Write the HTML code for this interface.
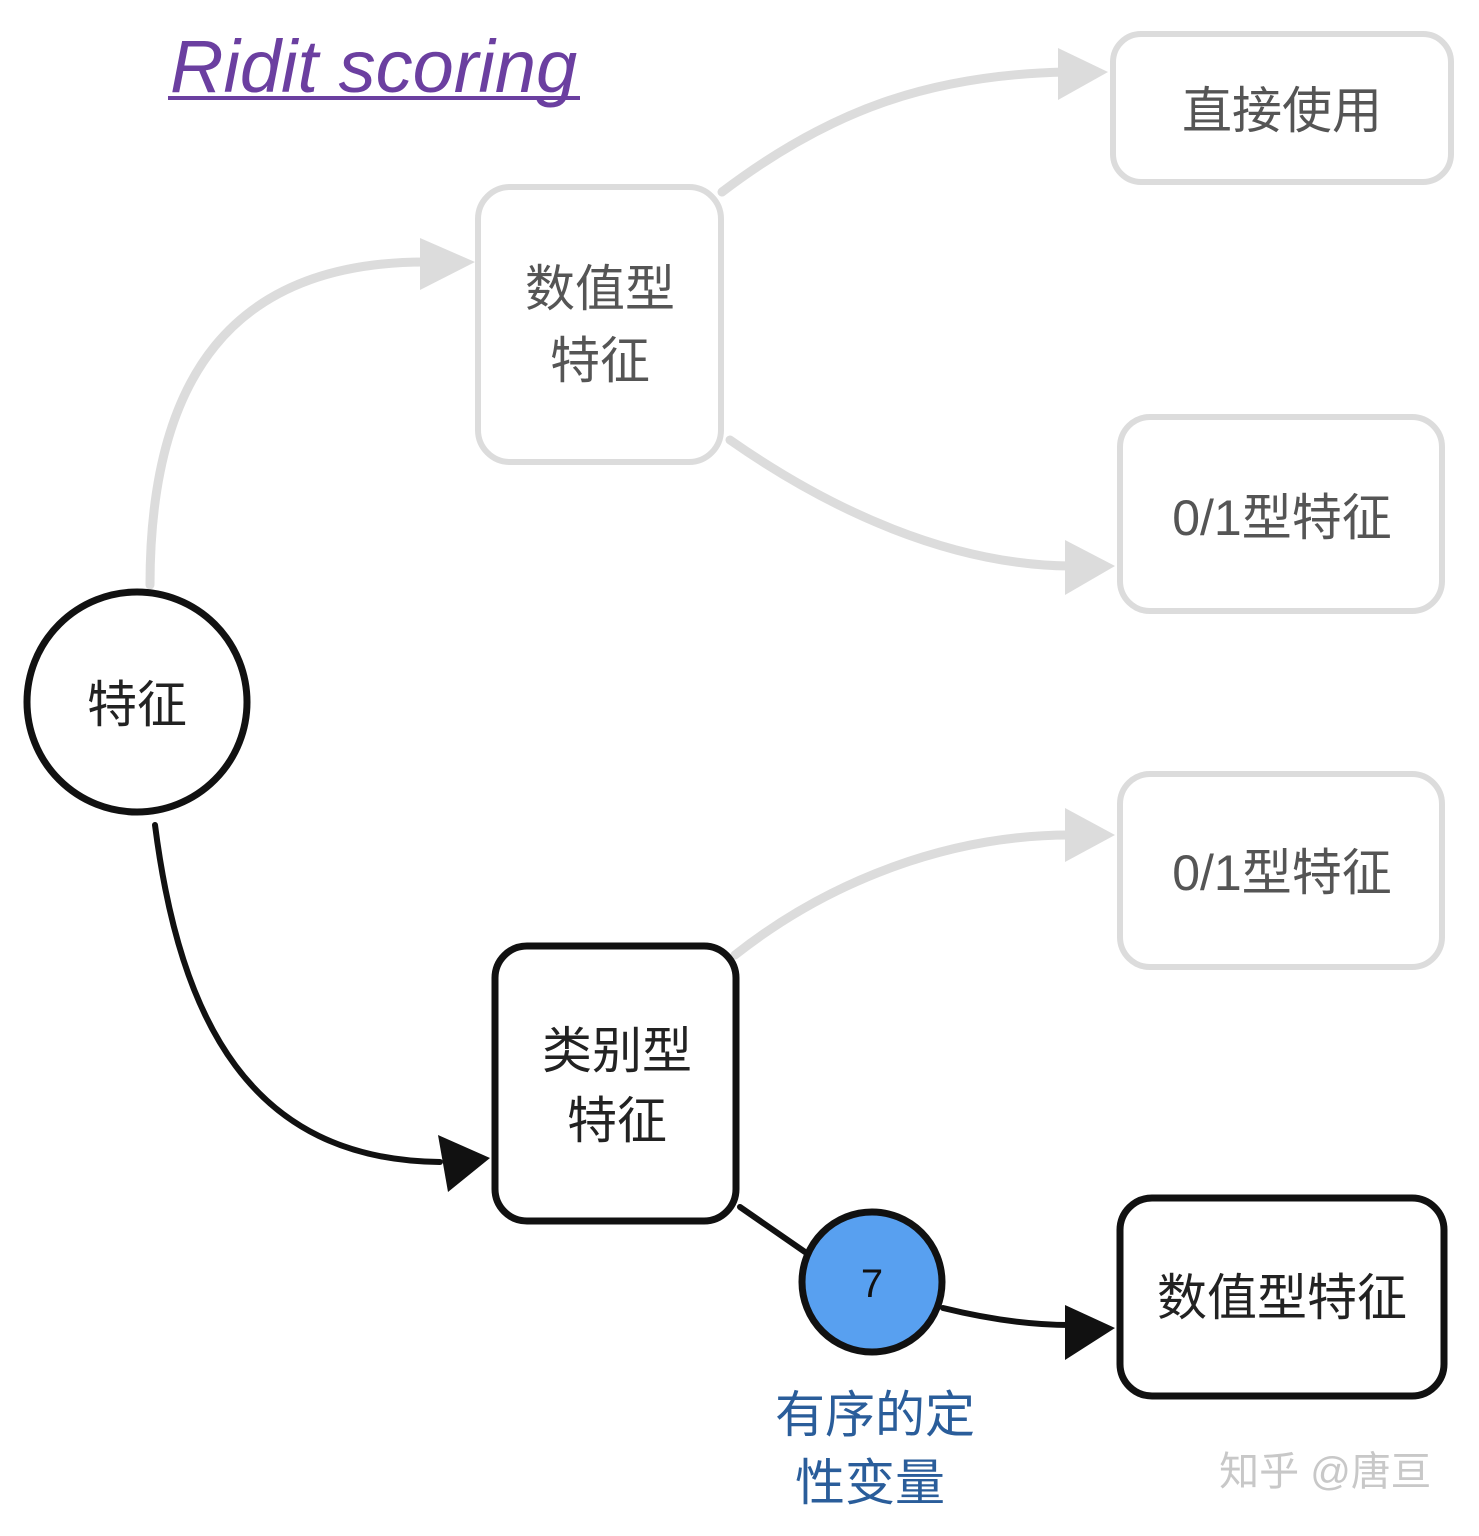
<!DOCTYPE html>
<html><head><meta charset="utf-8"><style>
body{margin:0;width:1479px;height:1531px;background:#fff;overflow:hidden}
svg text{font-family:"Liberation Sans","Noto Sans CJK SC",sans-serif}
</style></head><body>
<svg width="1479" height="1531" viewBox="0 0 1479 1531" xmlns="http://www.w3.org/2000/svg">
<defs>
<marker id="ga" markerWidth="10" markerHeight="10" refX="6" refY="5" orient="auto" markerUnits="userSpaceOnUse" viewBox="0 0 10 10"><path d="M0,0 L10,5 L0,10Z" fill="#ddd"/></marker>
</defs>
<!-- title -->
<text x="170" y="92" font-size="74" font-style="italic" fill="#6b3fa0" style="font-family:'Liberation Sans',sans-serif">Ridit scoring</text>
<line x1="168" y1="98" x2="580" y2="98" stroke="#6b3fa0" stroke-width="4"/>
<!-- gray connectors -->
<g fill="none" stroke="#dcdcdc" stroke-width="9" stroke-linecap="round">
<path d="M150,585 C150,380 230,260 430,262"/>
<path d="M722,192 C830,110 930,75 1065,72"/>
<path d="M730,440 C830,510 950,565 1070,566"/>
<path d="M735,955 C830,880 950,835 1070,835"/>
</g>
<g fill="#dcdcdc">
<path d="M420,238 L475,262 L420,290Z"/>
<path d="M1058,48 L1108,72 L1058,100Z"/>
<path d="M1065,540 L1115,566 L1065,595Z"/>
<path d="M1065,808 L1115,835 L1065,862Z"/>
</g>
<!-- gray boxes -->
<g fill="#fff" stroke="#dcdcdc" stroke-width="6">
<rect x="1113" y="34" width="338" height="148" rx="28"/>
<rect x="478" y="187" width="243" height="275" rx="32"/>
<rect x="1120" y="417" width="322" height="194" rx="30"/>
<rect x="1120" y="774" width="322" height="193" rx="30"/>
</g>
<g fill="#555" font-size="50" text-anchor="middle">
<text x="1282" y="128">直接使用</text>
<text x="600" y="306">数值型</text>
<text x="600" y="378">特征</text>
<text x="1282" y="535">0/1型特征</text>
<text x="1282" y="890">0/1型特征</text>
</g>
<!-- black connectors -->
<g fill="none" stroke="#111" stroke-width="6" stroke-linecap="round">
<path d="M155,825 C180,1020 250,1160 440,1162"/>
<path d="M740,1207 L805,1252"/>
<path d="M943,1308 C1000,1322 1040,1325 1070,1325"/>
</g>
<g fill="#111">
<path d="M438,1135 L490,1158 L448,1192Z"/>
<path d="M1065,1305 L1115,1328 L1065,1360Z"/>
</g>
<!-- black nodes -->
<circle cx="137" cy="702" r="110" fill="#fff" stroke="#111" stroke-width="7"/>
<text x="137" y="722" font-size="50" text-anchor="middle" fill="#222">特征</text>
<rect x="495" y="946" width="241" height="275" rx="32" fill="#fff" stroke="#111" stroke-width="7"/>
<text x="617" y="1068" font-size="50" text-anchor="middle" fill="#222">类别型</text>
<text x="617" y="1138" font-size="50" text-anchor="middle" fill="#222">特征</text>
<rect x="1120" y="1198" width="324" height="198" rx="32" fill="#fff" stroke="#111" stroke-width="7"/>
<text x="1282" y="1315" font-size="50" text-anchor="middle" fill="#222">数值型特征</text>
<circle cx="872" cy="1282" r="70" fill="#58a0f0" stroke="#111" stroke-width="7"/>
<text x="872" y="1297" font-size="40" text-anchor="middle" fill="#111">7</text>
<text x="875" y="1432" font-size="50" text-anchor="middle" fill="#2a5d9a">有序的定</text>
<text x="870" y="1500" font-size="50" text-anchor="middle" fill="#2a5d9a">性变量</text>
<text x="1325" y="1485" font-size="40" text-anchor="middle" fill="#c8c8c8">知乎 @唐亘</text>
</svg>
</body></html>
